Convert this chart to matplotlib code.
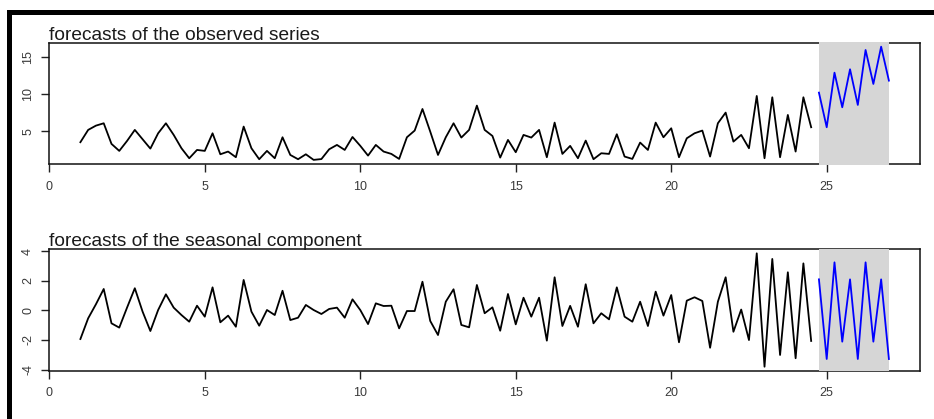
import matplotlib
matplotlib.use('Agg')
import matplotlib.pyplot as plt
from matplotlib.patches import Rectangle
import numpy as np

plt.rcParams['font.family'] = ['Liberation Sans', 'DejaVu Sans']

# quarterly series, start = 1, frequency = 4
start = 1.0
freq = 4
fc_start = 24.75

observed = [
    3.49, 5.16, 5.74, 6.06,
    3.26, 2.31, 3.66, 5.16,
    3.89, 2.62, 4.70, 6.06,
    4.48, 2.67, 1.31, 2.44,
    2.31, 4.70, 1.85, 2.22,
    1.45, 5.61, 2.67, 1.18,
    2.31, 1.31, 4.16, 1.76,
    1.18, 1.85, 1.09, 1.20,
    2.53, 3.12, 2.44, 4.20,
    3.00, 1.67, 3.12, 2.22,
    1.90, 1.22, 4.16, 5.07,
    8.00, 4.93, 1.76, 4.16,
    6.06, 4.12, 5.16, 8.46,
    5.16, 4.34, 1.40, 3.80,
    2.13, 4.48, 4.12, 5.16,
    1.45, 6.15, 1.90, 2.99,
    1.31, 3.71, 1.18, 1.99,
    1.90, 4.57, 1.54, 1.22,
    3.44, 2.44, 6.15, 4.16,
    5.38, 1.45, 4.02, 4.70,
    5.07, 1.54, 6.06, 7.51,
    3.57, 4.48, 2.67, 9.77,
    1.31, 9.59, 1.45, 7.19,
    2.22, 9.59, 5.52,
]

seasonal = [
    -1.94, -0.54, 0.41, 1.44,
    -0.88, -1.17, 0.18, 1.49,
    -0.09, -1.40, 0.02, 1.08,
    0.18, -0.32, -0.77, 0.31,
    -0.43, 1.55, -0.81, -0.36,
    -1.11, 2.05, -0.09, -1.04,
    0.02, -0.32, 1.32, -0.66,
    -0.50, 0.36, 0.02, -0.25,
    0.09, 0.18, -0.50, 0.74,
    0.02, -0.93, 0.47, 0.29,
    0.31, -1.22, -0.05, -0.05,
    1.93, -0.72, -1.67, 0.58,
    1.42, -0.99, -1.15, 1.71,
    -0.20, 0.20, -1.38, 1.10,
    -0.95, 0.85, -0.43, 0.85,
    -2.05, 2.23, -1.06, 0.30,
    -1.11, 1.76, -0.88, -0.20,
    -0.61, 1.55, -0.43, -0.77,
    0.58, -1.06, 1.26, -0.36,
    1.03, -2.16, 0.65, 0.88,
    0.63, -2.53, 0.58, 2.23,
    -1.45, 0.05, -2.01, 3.85,
    -3.81, 3.47, -3.02, 2.57,
    -3.24, 3.17, -2.07,
]

fc_observed = [10.22, 5.52, 12.93, 8.23, 13.39, 8.55, 16.01, 11.40, 16.46, 11.85]
fc_seasonal = [2.09, -3.29, 3.24, -2.12, 2.09, -3.29, 3.24, -2.12, 2.09, -3.29]

titles = ['forecasts of the observed series', 'forecasts of the seasonal component']
xticks = [0, 5, 10, 15, 20, 25]
yticks_obs = [5, 10, 15]
yticks_sea = [-4, -2, 0, 2, 4]

t = start + np.arange(len(observed)) / freq
t_fc = fc_start + np.arange(len(fc_observed)) / freq

W, H = 934, 419
fig = plt.figure(figsize=(W / 100, H / 100), dpi=100)

# outer frame (only top and left edges are in view)
fig.add_artist(Rectangle((7 / W, 1 - 15 / H), 1 - 7 / W, 5 / H,
                         transform=fig.transFigure, color='black', lw=0))
fig.add_artist(Rectangle((7 / W, 0), 5 / W, 1 - 10 / H,
                         transform=fig.transFigure, color='black', lw=0))

panels = [
    (observed, fc_observed, titles[0], yticks_obs, (0.53, 17.0), 164.0, 42.7),
    (seasonal, fc_seasonal, titles[1], yticks_sea, (-4.08, 4.12), 370.7, 249.3),
]

for vals, fc, title, yt, ylim, bot_px, top_px in panels:
    ax = fig.add_axes([49.3 / W, 1 - bot_px / H, (920 - 49.3) / W, (bot_px - top_px) / H])
    ax.plot(t, vals, color='black', lw=1.3, zorder=3)
    # shaded forecast window drawn over the box, like R's polygon
    ax.add_patch(Rectangle((t_fc[0], -0.006), t_fc[-1] - t_fc[0], 1.012,
                           transform=ax.get_xaxis_transform(), color='#d6d6d6',
                           lw=0, zorder=2.7, clip_on=False))
    ax.plot(t_fc, fc, color='#0000ff', lw=1.3, zorder=3)
    ax.set_xlim(0, 28)
    ax.set_ylim(*ylim)
    ax.set_xticks(xticks)
    ax.set_yticks(yt)
    ax.set_yticklabels([str(v) for v in yt], rotation=90, va='center')
    ax.tick_params(direction='out', length=6, width=1, color='#222222',
                   labelsize=9, labelcolor='#3a3a3a')
    ax.tick_params(axis='x', pad=6)
    ax.tick_params(axis='y', pad=5)
    for s in ax.spines.values():
        s.set_linewidth(1.1)
        s.set_color('#111111')
    ax.text(0, 1 + 3 / (bot_px - top_px), title, transform=ax.transAxes,
            ha='left', va='baseline', fontsize=13.8, color='#1a1a1a')

fig.savefig('out.png', dpi=100)
plt.close(fig)
